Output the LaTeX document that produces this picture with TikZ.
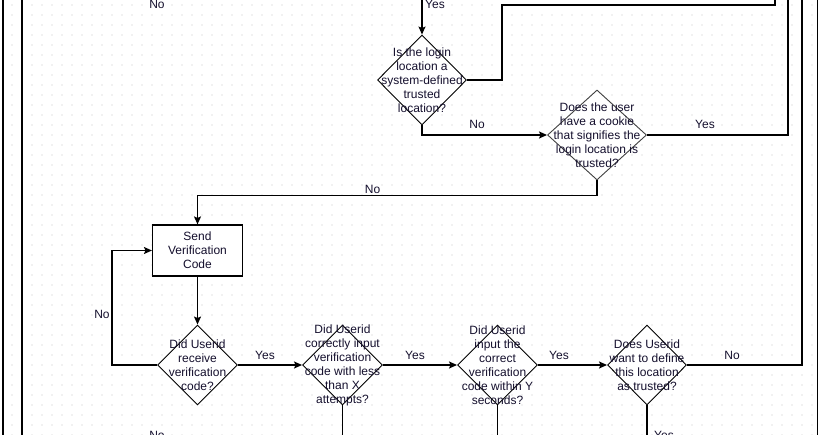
\documentclass[tikz,border=0pt]{standalone}
\usepackage{fontspec}
\setmainfont{Liberation Sans}
\usetikzlibrary{shapes.geometric,arrows.meta}
\definecolor{gridgray}{RGB}{195,195,195}
\definecolor{ink}{RGB}{20,15,45}
\begin{document}
\begin{tikzpicture}[x=1pt,y=-1pt,
  line/.style={line width=1.3pt, black},
  arr/.style={line, -{Stealth[length=8pt,width=7pt,inset=1.5pt]}},
  decision/.style={shape=diamond, draw=black, line width=0.9pt, fill=white, inner sep=0pt},
  process/.style={draw=black, line width=1.1pt, fill=white, minimum width=90pt, minimum height=51pt, inner sep=0pt},
  txt/.style={font=\fontsize{12}{14}\selectfont, text=ink, align=center, inner sep=0pt},
  lbl/.style={font=\fontsize{12}{14}\selectfont, text=ink, anchor=base, inner sep=0pt},
  frame/.style={line width=1.8pt, black}]
\useasboundingbox (0,0) rectangle (821,435);
\clip (0,0) rectangle (821,435);

% dotted drawing grid
\fill[gridgray] \foreach \i in {0,...,80} {\foreach \j in {0,...,43} {(12+10*\i,5+10*\j) circle (0.6)}};

% page frame lines
\draw[frame] (2.7,0) -- (2.7,435);
\draw[frame] (22.3,0) -- (22.3,435);
\draw[line width=1.4pt] (817.5,0) -- (817.5,435);

% decisions and process
\node[decision, minimum width=89pt, minimum height=90pt] (d1) at (422,80) {};
\node[txt] at (d1.center) {Is the login\\location a\\system-defined\\trusted\\location?};

\node[decision, draw=black!75, minimum width=99pt, minimum height=90pt] (d2) at (597,135) {};
\node[txt] at (d2.center) {Does the user\\have a cookie\\that signifies the\\login location is\\trusted?};

\node[process] (box) at (197.5,250.5) {};
\node[txt] at (box.center) {Send\\Verification\\Code};

\node[decision, minimum width=80pt, minimum height=80pt] (d3) at (197.5,365) {};
\node[txt] at (d3.center) {Did Userid\\receive\\verification\\code?};

\node[decision, minimum width=80pt, minimum height=80pt] (d4) at (342.5,365) {};
\node[txt] at (d4.center) {Did Userid\\correctly input\\verification\\code with less\\than X\\attempts?};

\node[decision, minimum width=80pt, minimum height=80pt] (d5) at (497.5,365) {};
\node[txt] at (d5.center) {Did Userid\\input the\\correct\\verification\\code within Y\\seconds?};

\node[decision, minimum width=79pt, minimum height=80pt] (d6) at (647,365) {};
\node[txt] at (d6.center) {Does Userid\\want to define\\this location\\as trusted?};

% free ends of connectors leaving the sheet
\coordinate (in1) at (422,0);
\coordinate (j1) at (502,5);
\coordinate (out1) at (775,0);
\coordinate (out2) at (788,0);
\coordinate (out3) at (802,0);
\coordinate (out4) at (342.5,435);
\coordinate (out5) at (497.5,435);
\coordinate (out6) at (647,435);

% connectors
\draw[arr] (in1) -- (d1.north);
\draw[line] (d1.east) -| (j1) -| (out1);
\draw[arr] (d1.south) |- (d2.west);
\draw[line] (d2.east) -| (out2);
\draw[arr] (d2.south) -- ++(0,15) -| (box.north);
\draw[arr] (box.south) -- (d3.north);
\draw[arr] (d3.west) -- ++(-45,0) |- (box.west);
\draw[arr] (d3.east) -- (d4.west);
\draw[arr] (d4.east) -- (d5.west);
\draw[arr] (d5.east) -- (d6.west);
\draw[line] (d6.east) -| (out3);
\draw[line] (d4.south) -- (out4);
\draw[line] (d5.south) -- (out5);
\draw[line] (d6.south) -- (out6);

% connector labels
\node[lbl] (l1) at (435,9) {Yes};
\node[lbl] (l2) at (157,9) {No};
\node[lbl] (l3) at (477,129) {No};
\node[lbl] (l4) at (705,129) {Yes};
\node[lbl] (l5) at (372.5,194) {No};
\node[lbl] (l6) at (102,319) {No};
\node[lbl] (l7) at (265,359) {Yes};
\node[lbl] (l8) at (415,359) {Yes};
\node[lbl] (l9) at (559,359) {Yes};
\node[lbl] (l10) at (732,359) {No};
\node[lbl] (l11) at (157,439) {No};
\node[lbl] (l12) at (664,439) {Yes};
\end{tikzpicture}
\end{document}
